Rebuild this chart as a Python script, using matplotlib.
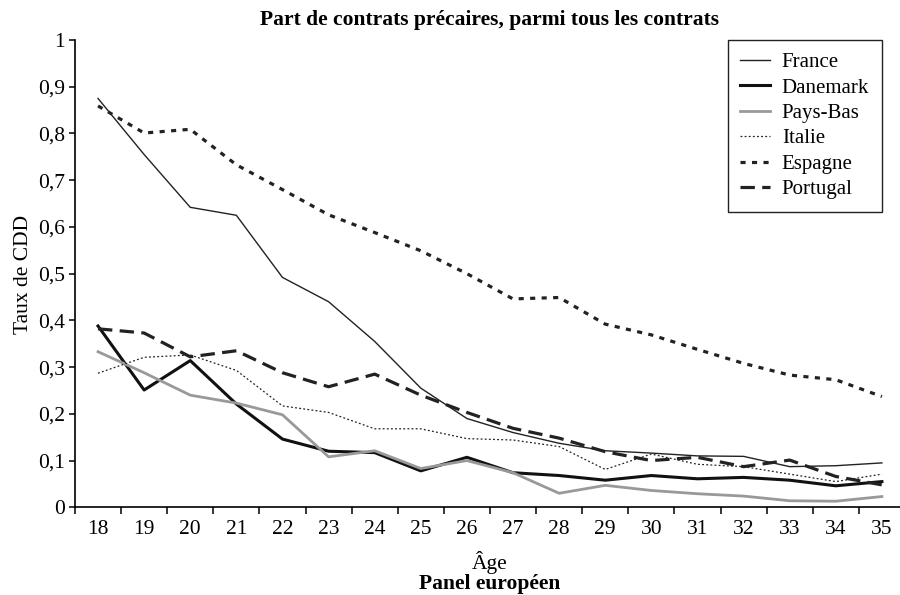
import numpy as np
import matplotlib

matplotlib.use("Agg")
import matplotlib.pyplot as plt

plt.rcParams["font.family"] = ["Liberation Serif", "DejaVu Serif"]

# data
ages = list(range(18, 36))
france = [0.875, 0.755, 0.642, 0.625, 0.492, 0.44, 0.355, 0.255, 0.19, 0.16,
          0.137, 0.121, 0.116, 0.110, 0.109, 0.087, 0.089, 0.095]
danemark = [0.388, 0.251, 0.314, 0.221, 0.146, 0.120, 0.117, 0.078, 0.107, 0.074,
            0.068, 0.058, 0.068, 0.061, 0.064, 0.058, 0.046, 0.055]
pays_bas = [0.333, 0.288, 0.240, 0.223, 0.198, 0.108, 0.121, 0.083, 0.100, 0.074,
            0.030, 0.047, 0.036, 0.029, 0.024, 0.014, 0.013, 0.023]
italie = [0.287, 0.321, 0.326, 0.293, 0.217, 0.203, 0.168, 0.168, 0.147, 0.144,
          0.130, 0.081, 0.114, 0.092, 0.087, 0.071, 0.055, 0.071]
espagne = [0.859, 0.801, 0.809, 0.733, 0.680, 0.626, 0.588, 0.549, 0.500, 0.446,
           0.449, 0.392, 0.369, 0.338, 0.308, 0.283, 0.273, 0.237]
portugal = [0.382, 0.373, 0.322, 0.335, 0.288, 0.258, 0.285, 0.240, 0.203, 0.169,
            0.148, 0.119, 0.100, 0.107, 0.087, 0.101, 0.066, 0.048]

fig = plt.figure(figsize=(9.0, 5.95), dpi=100)
ax = fig.add_axes([0.0833, 0.1474, 0.9222, 0.7853])

ax.plot(ages, france, color="#222222", lw=1.0, label="France")
ax.plot(ages, danemark, color="#111111", lw=2.2, label="Danemark")
ax.plot(ages, pays_bas, color="#999999", lw=2.0, label="Pays-Bas")
ax.plot(ages, italie, color="#222222", lw=0.9, ls=(0, (1.5, 1.8)), label="Italie")
ax.plot(ages, espagne, color="#222222", lw=2.3, ls=(0, (1.6, 2.0)), label="Espagne")
ax.plot(ages, portugal, color="#222222", lw=2.3, ls=(0, (4.5, 2.3)), label="Portugal")

ax.set_xlim(17.5, 35.5)
ax.set_ylim(0, 1)

# category ticks: labels at the centres, marks between categories
ax.set_xticks(ages)
ax.set_xticks(np.arange(17.5, 36, 1), minor=True)
ax.tick_params(axis="x", which="major", length=0, pad=9, labelsize=15.5)
ax.tick_params(axis="x", which="minor", length=5, width=1.1, direction="out")

yt = np.arange(0, 1.01, 0.1)
ax.set_yticks(yt)
ax.set_yticklabels(["0"] + [f"0,{i}" for i in range(1, 10)] + ["1"])
ax.tick_params(axis="y", length=4, width=1.1, pad=3, labelsize=15.5)

for s in ("top", "right"):
    ax.spines[s].set_visible(False)
for s in ("left", "bottom"):
    ax.spines[s].set_linewidth(1.2)

leg = ax.legend(loc="upper right", bbox_to_anchor=(0.972, 1.0), fontsize=15,
                frameon=True, fancybox=False, framealpha=1, edgecolor="#222222",
                handlelength=1.45, handletextpad=0.55, labelspacing=0.28,
                borderpad=0.6, borderaxespad=0)
leg.get_frame().set_linewidth(1.0)

fig.text(0.5444, 0.958, "Part de contrats précaires, parmi tous les contrats",
         ha="center", va="baseline", fontsize=15.5, fontweight="bold")
fig.text(0.5444, 0.043, "Âge", ha="center", va="baseline", fontsize=15.5)
fig.text(0.5444, 0.002, "Panel européen", ha="center", va="bottom",
         fontsize=15.5, fontweight="bold")
fig.text(0.0256, 0.539, "Taux de CDD", ha="center", va="center",
         rotation=90, fontsize=15.5)

fig.savefig("out.png", dpi=100)
